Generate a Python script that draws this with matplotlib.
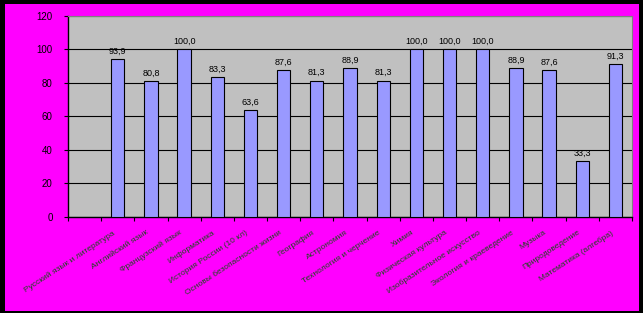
import matplotlib
matplotlib.use('Agg')
import matplotlib.pyplot as plt
import matplotlib.transforms as mtransforms
from matplotlib.patches import Rectangle

plt.rcParams['font.family'] = ['Liberation Sans', 'DejaVu Sans']

# data (labels are illegible in the source, best guesses by length)
subjects = ['Русский язык и литература', 'Английский язык', 'Французский язык',
            'Информатика', 'История России (10 кл)', 'Основы безопасности жизни',
            'География', 'Астрономия', 'Технология и черчение', 'Химия',
            'Физическая культура', 'Изобразительное искусство',
            'Экология и краеведение', 'Музыка', 'Природоведение',
            'Математика (алгебра)']
values = [93.9, 80.8, 100.0, 83.3, 63.6, 87.6, 81.3, 88.9, 81.3,
          100.0, 100.0, 100.0, 88.9, 87.6, 33.3, 91.3]
y_ticks = [0, 20, 40, 60, 80, 100, 120]

fig = plt.figure(figsize=(6.43, 3.13), dpi=100, facecolor='black')
bg = Rectangle((5/643, 2.5/313), 633.5/643, 306.5/313,
               transform=fig.transFigure, facecolor='#ff00ff',
               edgecolor='none', zorder=-10)
fig.add_artist(bg)

ax = fig.add_axes([68/643, 96.3/313, 564/643, 201/313])
ax.set_facecolor('#c0c0c0')

pos = list(range(1, len(values) + 1))
ax.bar(pos, values, width=0.4, color='#9999ff', edgecolor='black',
       linewidth=0.8, zorder=3)
for x, v in zip(pos, values):
    ax.text(x, v + 2, ('%.1f' % v).replace('.', ','), ha='center', va='bottom',
            fontsize=6.5, color='black', zorder=4)

ax.set_xlim(-0.5, len(values) + 0.5)
ax.set_ylim(0, 120)
ax.set_yticks(y_ticks)
ax.set_yticklabels([str(t) for t in y_ticks], fontsize=7, color='black')
ax.yaxis.grid(True, color='black', linewidth=0.8, zorder=1)
ax.set_axisbelow(True)
ax.tick_params(axis='y', length=3, width=0.8, pad=8, color='black')

ax.set_xticks([p - 0.5 for p in [0] + pos] + [len(values) + 0.5], minor=True)
ax.tick_params(axis='x', which='minor', length=3, width=0.8, color='black')
ax.set_xticks(pos)
ax.set_xticklabels(subjects, rotation=33, ha='right', va='top',
                   rotation_mode='anchor', fontsize=6, color='#1e4a1e')
ax.tick_params(axis='x', which='major', length=0, pad=9)
shift = mtransforms.ScaledTranslation(-5/100, 0, fig.dpi_scale_trans)
for lab in ax.get_xticklabels():
    lab.set_transform(lab.get_transform() + shift)

for side in ['left', 'bottom']:
    ax.spines[side].set_color('black')
    ax.spines[side].set_linewidth(1)
for side in ['top', 'right']:
    ax.spines[side].set_color('#808080')
    ax.spines[side].set_linewidth(0.8)

fig.savefig('out.png', dpi=100, facecolor='black')
